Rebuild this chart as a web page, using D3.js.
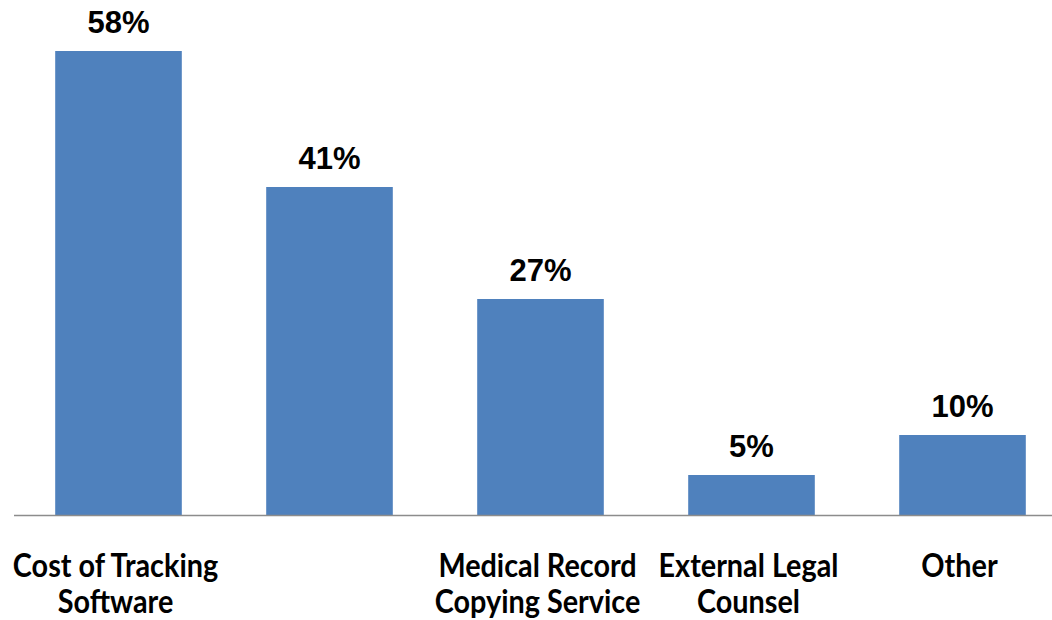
<!DOCTYPE html>
<html><head><meta charset="utf-8">
<script src="https://cdn.jsdelivr.net/npm/d3@7"></script>
<style>html,body{margin:0;padding:0;background:#fff;}</style>
</head><body>
<svg id="c" width="1052" height="620"></svg>
<script>
const categories = [["Cost of Tracking","Software"], [""], ["Medical Record","Copying Service"], ["External Legal","Counsel"], ["Other"]];
const values = [58, 41, 27, 5, 10];
const valueLabels = ["58%", "41%", "27%", "5%", "10%"];

const svg = d3.select("#c");
const x = d3.scaleBand().domain(d3.range(values.length)).range([13, 1068]).paddingInner(0.4).paddingOuter(0.2);
const y = d3.scaleLinear().domain([0, 60]).range([515, 35]);

svg.selectAll("rect.bar").data(values).join("rect")
  .attr("class","bar")
  .attr("x",(d,i)=>x(i)).attr("width",x.bandwidth())
  .attr("y",d=>y(d)).attr("height",d=>y(0)-y(d))
  .attr("fill","#4F81BD");

svg.append("line").attr("x1",14).attr("x2",1052).attr("y1",y(0)+0.5).attr("y2",y(0)+0.5)
  .attr("stroke","#8c8c8c").attr("stroke-width",1.5);

svg.selectAll("text.val").data(values).join("text")
  .attr("class","val")
  .attr("x",(d,i)=>x(i)+x.bandwidth()/2)
  .attr("y",d=>y(d)-18)
  .attr("text-anchor","middle")
  .attr("font-family","Liberation Sans, Arial, sans-serif")
  .attr("font-weight","bold").attr("font-size",31)
  .attr("fill","#000")
  .text((d,i)=>valueLabels[i]);

const cat = svg.selectAll("text.cat").data(categories).join("text")
  .attr("class","cat")
  .attr("text-anchor","middle")
  .attr("font-family","Lato, sans-serif")
  .attr("font-weight","bold").attr("font-size",32)
  .attr("fill","#000")
  .attr("transform",(d,i)=>`translate(${x(i)+x.bandwidth()/2-3},577) scale(0.9,1)`);
cat.selectAll("tspan").data(d=>d).join("tspan")
  .attr("x",0).attr("y",(d,j)=>j*36).text(d=>d);
</script>
</body></html>
